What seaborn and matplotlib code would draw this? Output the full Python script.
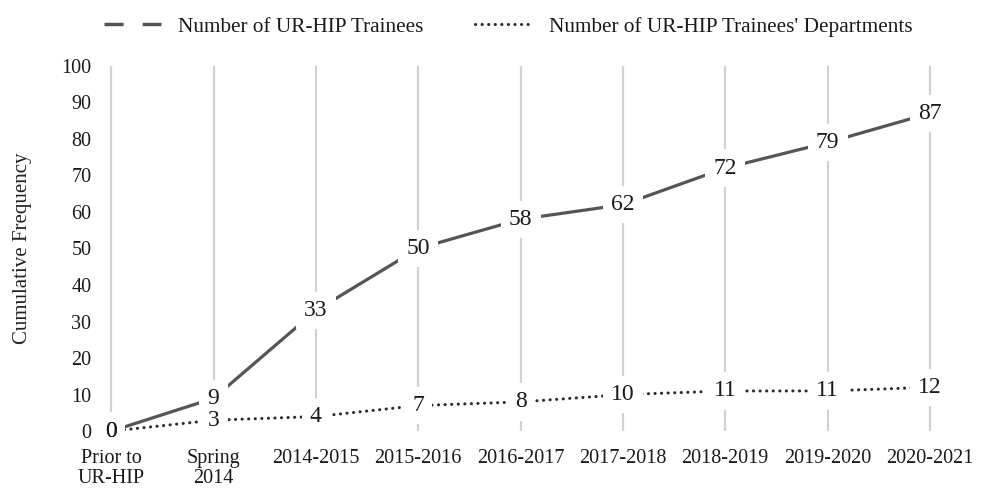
import matplotlib.pyplot as plt
import seaborn as sns
import pandas as pd
from matplotlib.lines import Line2D

# Chart data
periods = ["Prior to\nUR-HIP", "Spring\n2014", "2014-2015", "2015-2016", "2016-2017",
           "2017-2018", "2018-2019", "2019-2020", "2020-2021"]
trainees = [0, 9, 33, 50, 58, 62, 72, 79, 87]
departments = [0, 3, 4, 7, 8, 10, 11, 11, 12]
series_names = ["Number of UR-HIP Trainees", "Number of UR-HIP Trainees' Departments"]

df = pd.DataFrame({
    "pos": list(range(len(periods))) * 2,
    "value": trainees + departments,
    "series": [series_names[0]] * len(periods) + [series_names[1]] * len(periods),
})

sns.set_style("white")
plt.rcParams["font.family"] = ["Liberation Serif", "DejaVu Serif"]

line_color = "#555555"
dot_color = "#2a2a2a"
text_color = "#1a1a1a"
fig = plt.figure(figsize=(9.81, 4.95), dpi=100)
ax = fig.add_axes([0.103, 0.129, 0.897, 0.738])

sns.lineplot(data=df, x="pos", y="value", hue="series", style="series",
             palette=[line_color, line_color],
             dashes={series_names[0]: "", series_names[1]: (0.05, 2.1)},
             linewidth=2.3, legend=False, ax=ax)
ax.lines[1].set_linewidth(2.2)
ax.lines[1].set_dash_capstyle("round")
ax.lines[1].set_color(dot_color)

# vertical gridlines at categories
for i in range(len(periods)):
    ax.axvline(i, color="#d2d2d2", lw=1.6, zorder=0)

# value labels: white boxes first (mask lines), then the text on top
for vals in (trainees, departments):
    for i, v in enumerate(vals):
        ax.text(i, v, str(v), ha="center", va="center", fontsize=17, color="white",
                bbox=dict(facecolor="white", edgecolor="none", pad=6), zorder=4)
for vals in (trainees, departments):
    for i, v in enumerate(vals):
        ax.text(i, v, str(v), ha="center", va="center", fontsize=17, color=text_color,
                zorder=6)

ax.set_xlim(-0.1, 8.5)
ax.set_ylim(0, 100)
ax.set_yticks(range(0, 101, 10))
ax.set_xticks(range(len(periods)))
ax.set_xticklabels(periods, fontsize=14.5, linespacing=1.05, color=text_color)
ax.tick_params(axis="y", labelsize=14.5, pad=7, length=0, labelcolor=text_color)
ax.tick_params(axis="x", pad=13, length=0)
for s in ax.spines.values():
    s.set_visible(False)
ax.set_xlabel("")
ax.set_ylabel("Cumulative Frequency", fontsize=15, labelpad=21, color="#222222")

handles = [Line2D([], [], color=line_color, lw=2.5, ls=(0, (5.5, 5.5))),
           Line2D([], [], color=dot_color, lw=2.2, ls=(0, (0.05, 2.1)), dash_capstyle="round")]
fig.legend(handles, series_names, loc="upper center", bbox_to_anchor=(0.518, 1.005),
           ncol=2, frameon=False, fontsize=15.3, handlelength=2.7, handletextpad=0.8,
           columnspacing=2.4, labelcolor=text_color)

fig.savefig("out.png", dpi=100)
